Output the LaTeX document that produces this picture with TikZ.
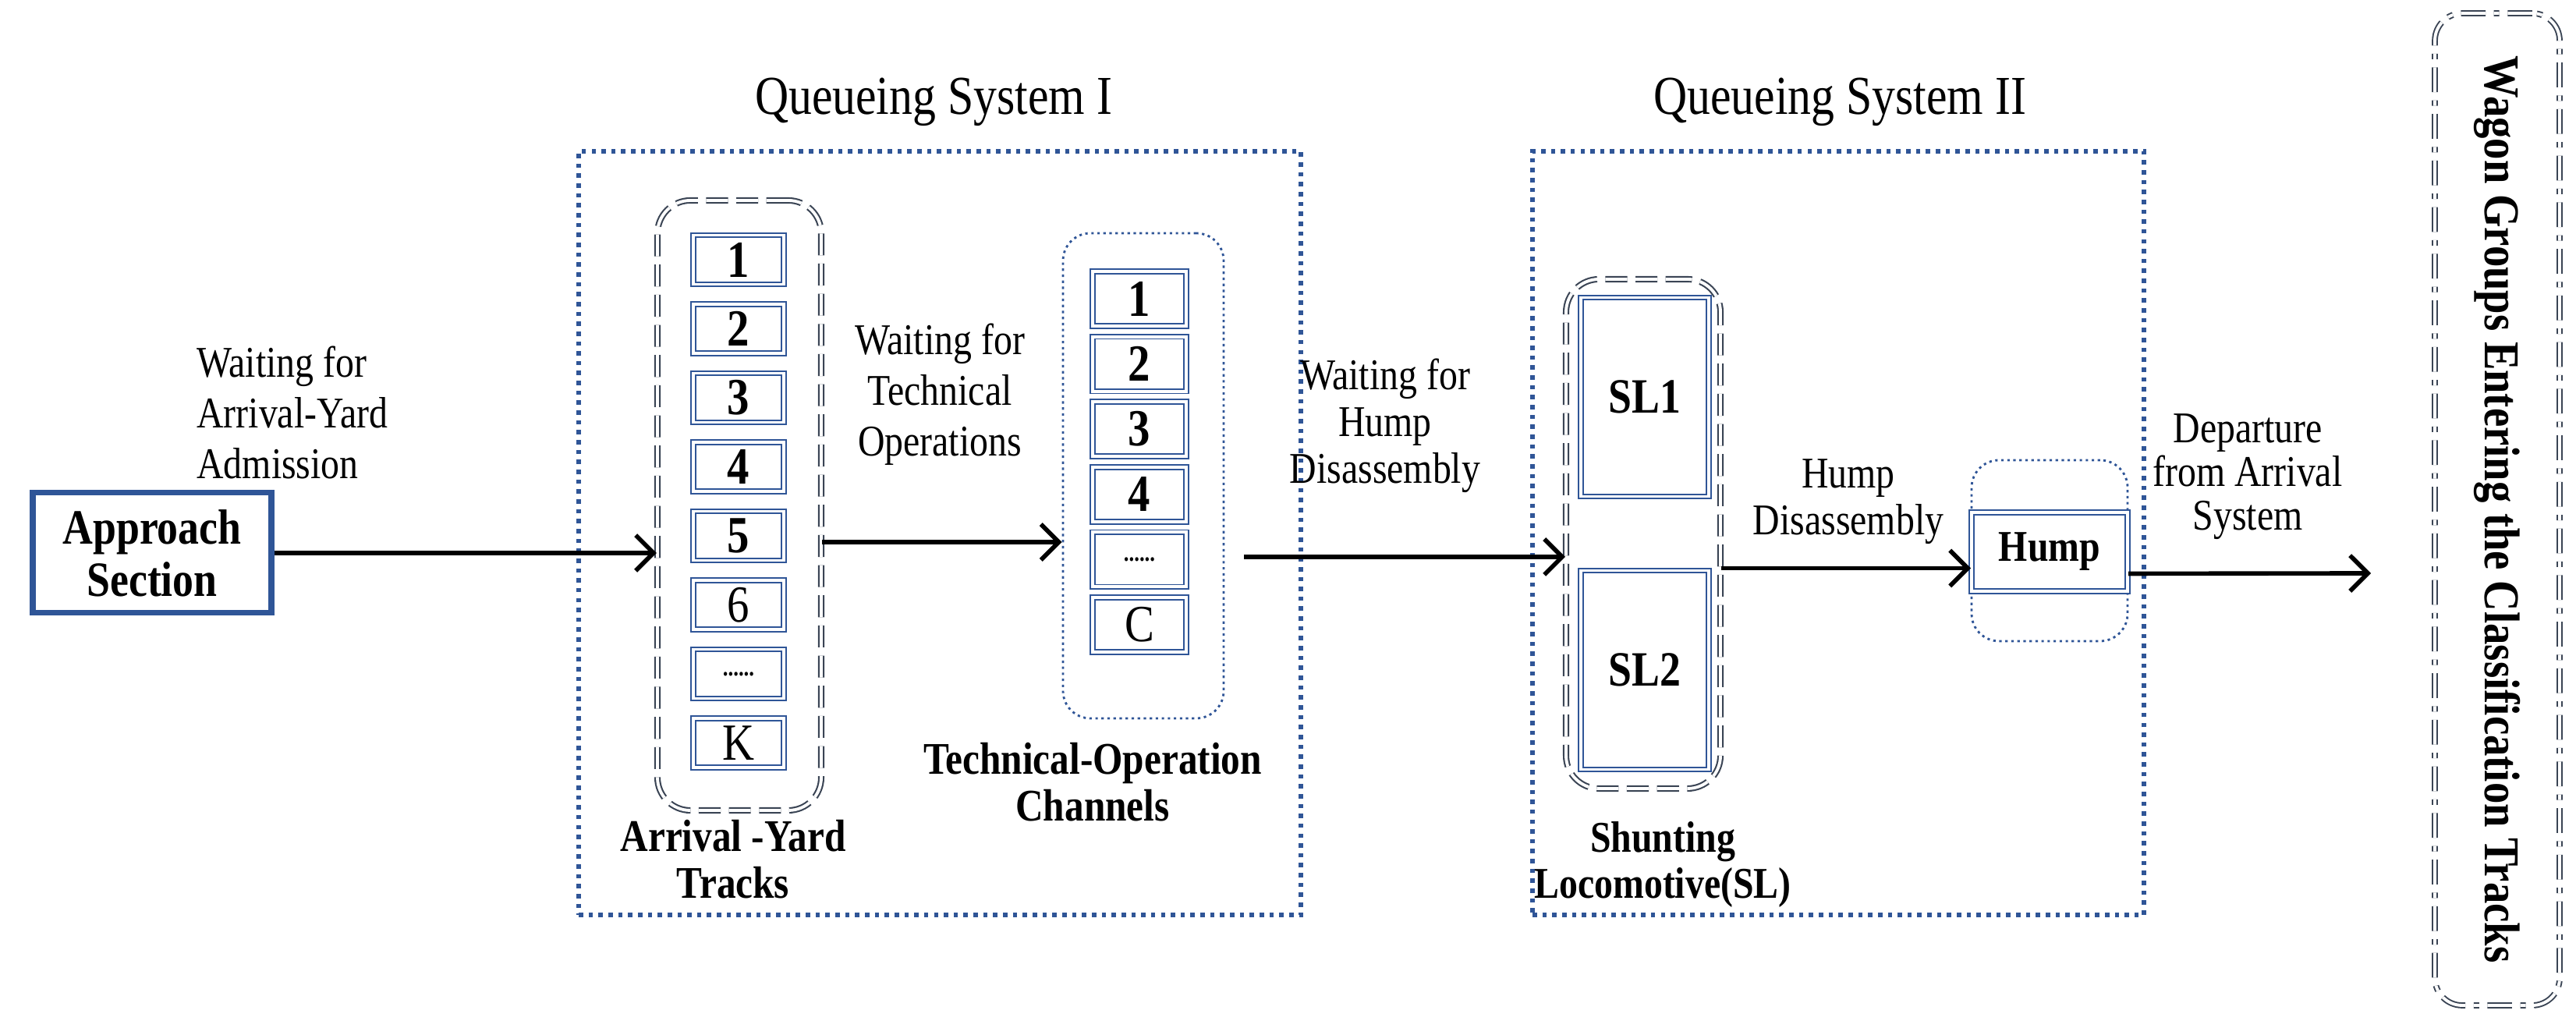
\documentclass[tikz,border=0pt]{standalone}
\usepackage{fontspec}
\setmainfont{Liberation Serif}[FakeStretch=0.85]
\usetikzlibrary{positioning,arrows.meta,calc}
\definecolor{qblue}{RGB}{47,85,151}
\definecolor{qgray}{RGB}{58,68,84}

\begin{document}
\begin{tikzpicture}[>={Straight Barb[length=6.5pt,width=13pt]},
  font=\fontsize{16}{18.5}\selectfont,
  sys/.style={draw=qblue, line width=1.5pt, dash pattern=on 1.6pt off 2pt},
  slot/.style={draw=qblue, double=white, double distance=1.1pt, line width=0.55pt,
    inner sep=0pt, font=\fontsize{19}{20}\selectfont},
  pool/.style={draw=qgray, double=white, double distance=1.1pt, line width=0.6pt,
    dash pattern=on 8pt off 3pt, rounded corners=12pt},
  chan/.style={draw=qblue, line width=0.8pt, dash pattern=on 0.9pt off 1.3pt, rounded corners=10pt},
  flow/.style={line width=1.6pt, ->},
  bl/.style={font=\fontsize{16.5}{17}\selectfont\bfseries, align=center, inner sep=1pt}]

  \useasboundingbox (0,0) rectangle (33.03,13.09);

  % the two queueing systems
  \node[sys, minimum width=9.26cm, minimum height=9.79cm] (qs1) at (12.05,6.255) {};
  \node[sys, minimum width=7.84cm, minimum height=9.79cm] (qs2) at (23.57,6.255) {};
  \node[font=\fontsize{20}{22}\selectfont] (t1) at (11.97,11.78) {Queueing System I};
  \node[font=\fontsize{20}{22}\selectfont] (t2) at (23.59,11.78) {Queueing System II};

  \node[draw=qblue, line width=2pt, minimum width=3.06cm, minimum height=1.54cm,
    font=\fontsize{18}{19}\selectfont\bfseries, align=center] (app) at (1.95,6.0) {Approach\\Section};

  % arrival-yard tracks
  \node[pool, minimum width=2.1cm, minimum height=7.82cm] (yard) at (9.48,6.61) {};
  \foreach \t [count=\i] in {\textbf{1},\textbf{2},\textbf{3},\textbf{4},\textbf{5},6,{\small\textbf{......}},K}
    \node[slot, minimum width=1.16cm, minimum height=0.63cm] (y\i) at (9.47,{9.76-(\i-1)*0.885}) {\t};
  \node[bl, anchor=north] (yardlab) at (9.4,2.62) {Arrival -Yard\\Tracks};

  % technical-operation channels
  \node[chan, minimum width=2.06cm, minimum height=6.22cm] (tech) at (14.66,6.99) {};
  \foreach \t [count=\i] in {\textbf{1},\textbf{2},\textbf{3},\textbf{4},{\small\textbf{......}},C}
    \node[slot, minimum width=1.2cm, minimum height=0.7cm] (c\i) at (14.61,{9.26-(\i-1)*0.836}) {\t};
  \node[bl] (techlab) at (14.01,3.06) {Technical-Operation\\Channels};

  % shunting locomotives
  \node[pool, minimum width=1.98cm, minimum height=6.53cm] (sl) at (21.07,6.245) {};
  \node[slot, minimum width=1.64cm, minimum height=2.55cm, font=\fontsize{18}{20}\selectfont\bfseries] (sl1) at (21.09,8.0) {SL1};
  \node[slot, minimum width=1.64cm, minimum height=2.55cm, font=\fontsize{18}{20}\selectfont\bfseries] (sl2) at (21.09,4.5) {SL2};
  \node[bl, anchor=north, font=\fontsize{16}{17}\selectfont\bfseries] (sllab) at (21.32,2.6) {Shunting\\Locomotive(SL)};

  % hump
  \node[chan, minimum width=2cm, minimum height=2.32cm] (humpbox) at (26.28,6.03) {};
  \node[slot, minimum width=2cm, minimum height=1.01cm, font=\fontsize{16}{17}\selectfont\bfseries] (hump) at (26.28,6.015) {Hump};

  \node[draw=qgray, double=white, double distance=1.1pt, line width=0.55pt,
    dash pattern=on 9pt off 3pt on 2pt off 3pt, rounded corners=10pt,
    minimum width=1.6cm, minimum height=12.72cm] (wag) at (32.02,6.56) {};
  \node[rotate=-90, font=\fontsize{18.3}{20}\selectfont\bfseries] (waglab) at (wag) {Wagon Groups Entering the Classification Tracks};

  % flows
  \coordinate (h0) at (15.95,5.95);
  \coordinate (out) at (30.4,5.74);
  \draw[flow] (app.east) -- (app.east -| yard.west);
  \draw[flow] ([yshift=-4.7mm]yard.east) -- ([yshift=-4.7mm]yard.east -| tech.west);
  \draw[flow] (h0) -- (h0 -| sl.west);
  \draw[flow] ([yshift=-4.4mm]sl.east) -- ([yshift=-4.4mm]sl.east -| hump.west);
  \draw[flow] ([yshift=-2.8mm]hump.east) -- (out);

  \node[align=left, anchor=west] (w1) at (2.4,7.8) {Waiting for\\Arrival-Yard\\Admission};
  \node[align=center] (w2) at (12.05,8.03) {Waiting for\\Technical\\Operations};
  \node[align=center, font=\fontsize{16}{17}\selectfont] (w3) at (17.76,7.63) {Waiting for\\Hump\\Disassembly};
  \node[align=center, font=\fontsize{16}{17}\selectfont] (w4) at (23.7,6.66) {Hump\\Disassembly};
  \node[align=center, font=\fontsize{16}{16}\selectfont] (w5) at (28.82,6.98) {Departure\\from Arrival\\System};
\end{tikzpicture}
\end{document}
